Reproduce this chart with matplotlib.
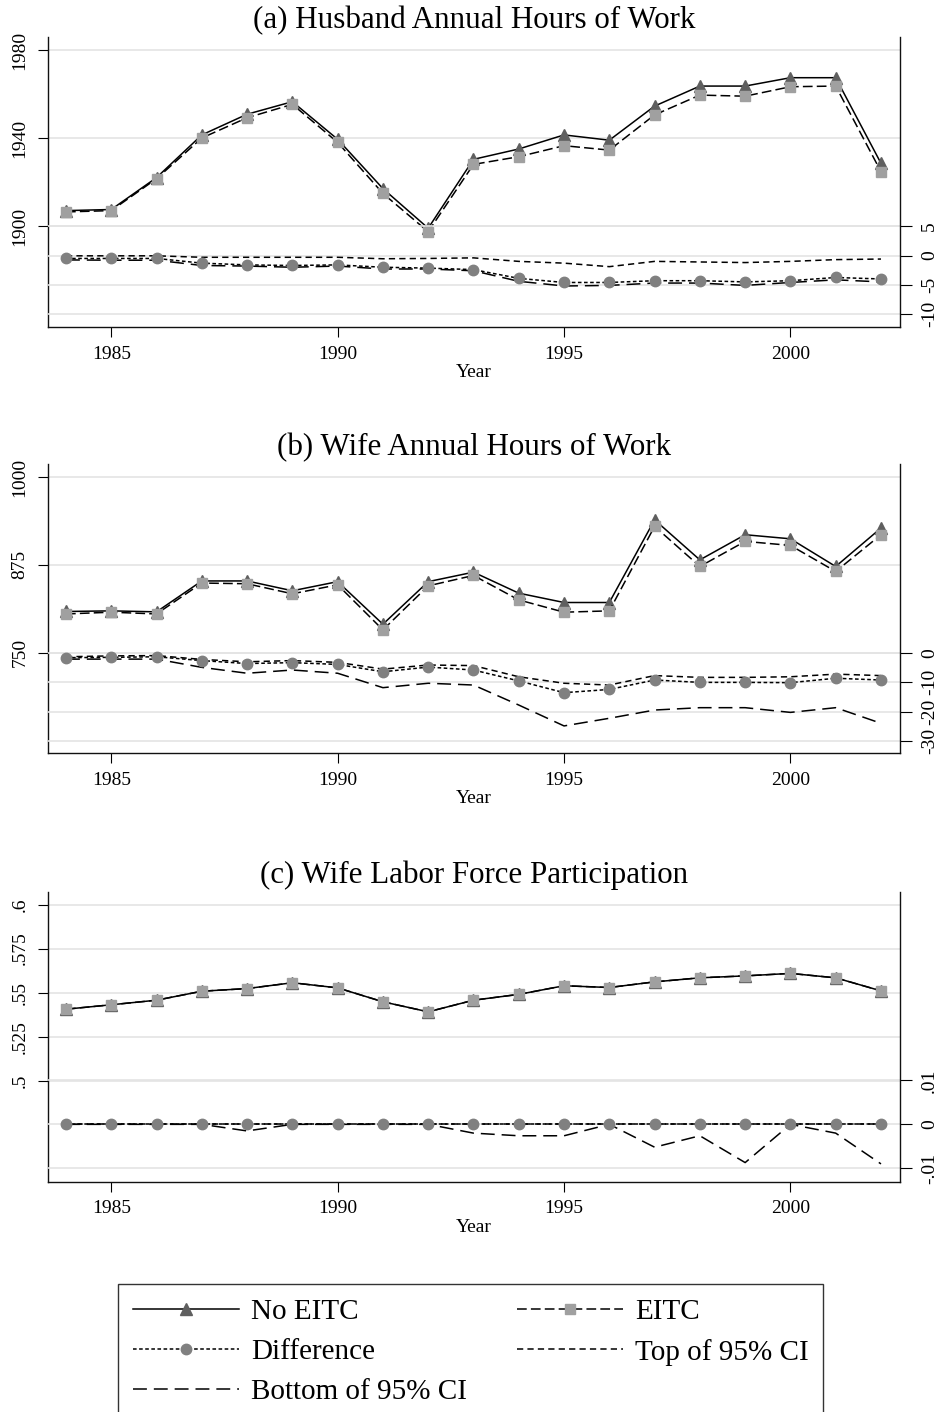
import matplotlib
matplotlib.use("Agg")
import matplotlib.pyplot as plt

plt.rcParams['font.family'] = ['Liberation Serif', 'DejaVu Serif']
plt.rcParams['lines.scale_dashes'] = False

years = list(range(1984, 2003))

# Panel (a) Husband annual hours
a_no_eitc = [1907, 1907.5, 1922, 1941.4, 1950.8, 1956.5, 1939.4, 1917, 1899, 1930.3, 1935,
             1941.4, 1939, 1954.5, 1963.6, 1963.6, 1967.4, 1967.4, 1928.5]
a_eitc = [1906.4, 1907, 1921.5, 1940, 1949.2, 1955.3, 1938, 1914.8, 1897.4, 1928, 1931.5,
          1936.5, 1934.5, 1950.5, 1959.5, 1959, 1963.3, 1963.6, 1924.7]
a_diff = [-0.5, -0.5, -0.5, -1.3, -1.6, -1.7, -1.6, -2.0, -2.15, -2.4, -3.9,
          -4.6, -4.6, -4.3, -4.3, -4.5, -4.3, -3.75, -4.0]
a_top = [-0.05, -0.05, -0.05, -0.3, -0.3, -0.3, -0.3, -0.55, -0.5, -0.4, -1.0,
         -1.3, -1.9, -1.0, -1.1, -1.2, -1.0, -0.7, -0.6]
a_bot = [-0.75, -0.8, -0.8, -1.7, -1.8, -2.0, -1.8, -2.3, -2.3, -2.6, -4.4,
         -5.2, -5.1, -4.7, -4.7, -5.1, -4.6, -4.15, -4.5]

# Panel (b) Wife annual hours
b_no_eitc = [808.5, 809.4, 808, 852, 852, 838, 851, 790.4, 851, 864.5, 834.6,
             821.3, 821.3, 939, 882, 917.8, 912, 872.6, 927.3]
b_eitc = [805, 807.5, 805, 849, 848, 833.7, 846.5, 782.3, 845, 859.8, 825,
          807.5, 809.4, 929.7, 872.6, 908.3, 902.6, 865.5, 917.8]
b_diff = [-1.7, -1.6, -1.4, -2.7, -3.7, -3.4, -4.0, -6.5, -4.9, -5.9, -9.6,
          -13.6, -12.5, -9.3, -10.1, -10.1, -10.2, -8.7, -9.3]
b_top = [-1.4, -1.1, -1.0, -2.3, -3.1, -2.7, -3.3, -5.6, -4.2, -4.4, -8.2,
         -10.4, -11.0, -7.8, -8.4, -8.4, -8.2, -7.3, -7.8]
b_bot = [-2.2, -2.2, -2.2, -5.0, -7.0, -5.9, -7.0, -11.9, -10.4, -11.0, -17.8,
         -24.9, -22.3, -19.5, -18.7, -18.7, -20.3, -18.7, -24.0]

# Panel (c) Wife labor force participation
c_no_eitc = [0.5406, 0.5431, 0.5457, 0.5508, 0.5523, 0.5556, 0.5527, 0.5448, 0.5391, 0.5457,
             0.5490, 0.5539, 0.5529, 0.5561, 0.5584, 0.5595, 0.5609, 0.5584, 0.5510]
c_eitc = [0.5406, 0.5431, 0.5457, 0.5508, 0.5523, 0.5556, 0.5527, 0.5448, 0.5391, 0.5457,
          0.5490, 0.5539, 0.5529, 0.5561, 0.5584, 0.5595, 0.5609, 0.5584, 0.5510]
c_diff = [0.0] * 19
c_top = [0.0] * 19
c_bot = [0, 0, 0, 0, -0.0015, 0, 0, 0, 0, -0.002, -0.0026,
         -0.0026, 0, -0.0052, -0.0026, -0.0087, 0, -0.002, -0.009]

titles = ["(a) Husband Annual Hours of Work", "(b) Wife Annual Hours of Work",
          "(c) Wife Labor Force Participation"]
left_ticks = [[1900, 1940, 1980], [750, 875, 1000], [0.5, 0.525, 0.55, 0.575, 0.6]]
left_labels = [["1900", "1940", "1980"], ["750", "875", "1000"], [".5", ".525", ".55", ".575", ".6"]]
right_ticks = [[-10, -5, 0, 5], [-30, -20, -10, 0], [-0.01, 0, 0.01]]
right_labels = [["-10", "-5", "0", "5"], ["-30", "-20", "-10", "0"], ["-.01", "0", ".01"]]
left_lims = [(1854.1, 1985.9), (606.6, 1018.5), (0.4427, 0.6071)]
right_lims = [(-12.2, 37.3), (-34.2, 64.1), (-0.01305, 0.05286)]
x_ticks = [1985, 1990, 1995, 2000]
legend_labels = ["No EITC", "EITC", "Difference", "Top of 95% CI", "Bottom of 95% CI"]

W, H = 938, 1412
fig = plt.figure(figsize=(W / 100, H / 100), dpi=100)
fig.patch.set_facecolor('white')

boxes = [(48, 37, 900, 327), (48, 464, 900, 753.3), (48, 892, 900, 1181.7)]
data = [(a_no_eitc, a_eitc, a_diff, a_top, a_bot),
        (b_no_eitc, b_eitc, b_diff, b_top, b_bot),
        (c_no_eitc, c_eitc, c_diff, c_top, c_bot)]

grid_col = '#e4e4e4'
tri_col = '#5f5f5f'
sq_col = '#a0a0a0'
circ_col = '#808080'
st_eitc = (0, (7, 3))
st_diff = (0, (2.6, 1.8))
st_top = (0, (4.5, 3))
st_bot = (0, (10, 5))
lw = 1.1

handles = []
for i, (x0, y0, x1, y1) in enumerate(boxes):
    ax = fig.add_axes([x0 / W, 1 - y1 / H, (x1 - x0) / W, (y1 - y0) / H])
    ax2 = ax.twinx()
    no_e, e, d, t, b = data[i]
    h1, = ax.plot(years, no_e, color='black', lw=lw, marker='^', ms=8, mfc=tri_col, mec=tri_col, zorder=3)
    h2, = ax.plot(years, e, color='black', lw=lw, ls=st_eitc, marker='s', ms=6.5, mfc=sq_col, mec=sq_col, zorder=4)
    h4, = ax2.plot(years, t, color='black', lw=lw, ls=st_top, zorder=3)
    h5, = ax2.plot(years, b, color='black', lw=lw, ls=st_bot, zorder=3)
    h3, = ax2.plot(years, d, color='black', lw=lw, ls=st_diff, marker='o', ms=7.5, mfc=circ_col, mec=circ_col, zorder=4)
    handles = [h1, h2, h3, h4, h5]

    ax.set_xlim(1983.603, 2002.42)
    ax.set_ylim(*left_lims[i])
    ax2.set_ylim(*right_lims[i])
    ax.set_xticks(x_ticks)
    ax.set_xticklabels([str(v) for v in x_ticks], fontsize=14)
    ax.set_yticks(left_ticks[i])
    ax.set_yticklabels(left_labels[i], fontsize=14, rotation=90, va='center')
    ax2.set_yticks(right_ticks[i])
    ax2.set_yticklabels(right_labels[i], fontsize=14, rotation=90, va='center')

    ax.grid(axis='y', color=grid_col, lw=1.2)
    ax2.grid(axis='y', color=grid_col, lw=1.2, zorder=0)
    ax.set_axisbelow(True)
    ax2.set_axisbelow(True)

    for s in ['top', 'right']:
        ax.spines[s].set_visible(False)
    for s in ['top', 'left', 'bottom']:
        ax2.spines[s].set_visible(False)
    for sp in [ax.spines['left'], ax.spines['bottom'], ax2.spines['right']]:
        sp.set_linewidth(1.0)
        sp.set_color('#111111')

    ax.tick_params(axis='x', direction='out', length=7, width=0.8, pad=6.5)
    ax.tick_params(axis='y', direction='out', length=7, width=0.8, pad=7)
    ax2.tick_params(axis='y', direction='out', length=8.5, width=0.8, pad=6.5)

    ax.set_xlabel("Year", fontsize=14, labelpad=1)
    ax.set_title(titles[i], fontsize=22.3, pad=6.5)

h1, h2, h3, h4, h5 = handles
order_h = [h1, h3, h5, h2, h4]
order_l = [legend_labels[0], legend_labels[2], legend_labels[4], legend_labels[1], legend_labels[3]]
leg = fig.legend(order_h, order_l, ncol=2, loc='upper left',
                 bbox_to_anchor=(118 / W, 1 - 1284 / H), bbox_transform=fig.transFigure,
                 borderaxespad=0, fontsize=21, frameon=True, fancybox=False, shadow=False,
                 handlelength=3.66, handletextpad=0.4, columnspacing=1.7, labelspacing=0.47,
                 borderpad=0.5, numpoints=1)
leg.get_frame().set_edgecolor('black')
leg.get_frame().set_linewidth(1.0)

fig.savefig("out.png", dpi=100, facecolor='white')
